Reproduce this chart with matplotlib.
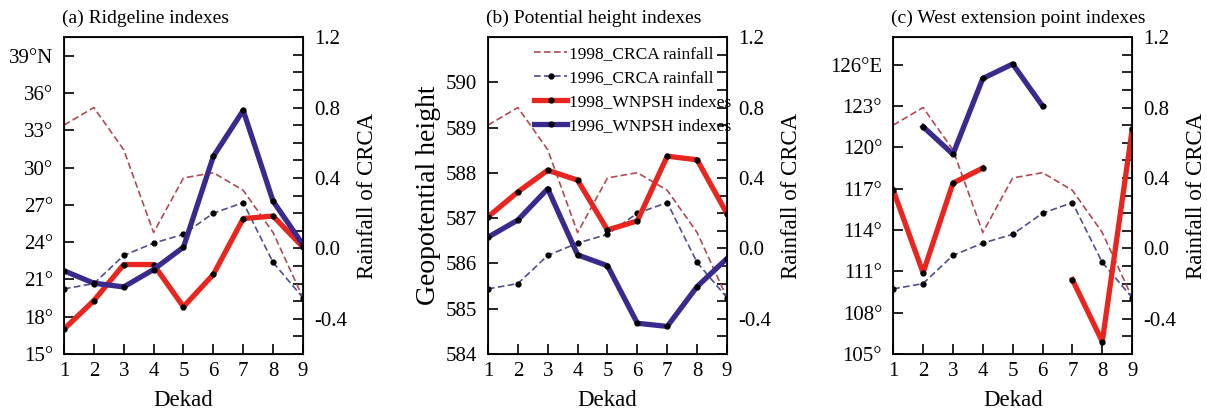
import matplotlib
matplotlib.use('Agg')
import matplotlib.pyplot as plt
import numpy as np
from matplotlib.ticker import MultipleLocator, FixedLocator, FixedFormatter

plt.rcParams['font.family'] = ['Liberation Serif', 'DejaVu Serif']
plt.rcParams['font.size'] = 15

# dekads
dekad = np.arange(1, 10)

# CRCA rainfall (right axis, same in every panel)
rain_1998 = [0.70, 0.80, 0.56, 0.09, 0.40, 0.43, 0.33, 0.09, -0.28]
rain_1996 = [-0.23, -0.20, -0.04, 0.03, 0.08, 0.20, 0.26, -0.08, -0.28]

# (a) ridgeline index, degrees N
ridge_1998 = [17.0, 19.3, 22.2, 22.2, 18.8, 21.4, 25.9, 26.1, 23.6]
ridge_1996 = [21.7, 20.7, 20.4, 21.8, 23.6, 30.9, 34.6, 27.3, 23.8]

# (b) potential height index, dagpm
height_1998 = [587.03, 587.58, 588.06, 587.84, 586.74, 586.94, 588.37, 588.29, 587.10]
height_1996 = [586.58, 586.96, 587.65, 586.19, 585.95, 584.68, 584.61, 585.49, 586.11]

# (c) west extension point index, degrees E (nan = no value)
west_1998 = [116.9, 110.9, 117.4, 118.5, np.nan, np.nan, 110.4, 105.9, 121.3]
west_1996 = [np.nan, 121.5, 119.5, 125.0, 126.05, 123.0, np.nan, np.nan, np.nan]

red = '#e8261f'
blue = '#3b2a8e'
rain_red = '#b04a55'
rain_blue = '#4f4f8c'

fig = plt.figure(figsize=(12.07, 4.17), dpi=100)

lefts = [0.053, 0.4043, 0.740]
width = 0.198
bottom = 0.151
height = 0.760

titles = ['(a) Ridgeline indexes', '(b) Potential height indexes',
          '(c) West extension point indexes']
ylims = [(15, 40.5), (584, 591), (105, 128)]
yticks = [np.arange(15, 40, 3), np.arange(584, 591, 1), np.arange(105, 127, 3)]
ylabels = [[u'%d\u00b0' % v for v in np.arange(15, 37, 3)] + [u'39\u00b0N'],
           ['%d' % v for v in np.arange(584, 591, 1)],
           [u'%d\u00b0' % v for v in np.arange(105, 124, 3)] + [u'126\u00b0E']]
series = [(ridge_1998, ridge_1996), (height_1998, height_1996), (west_1998, west_1996)]

for i in range(3):
    ax = fig.add_axes([lefts[i], bottom, width, height])
    ax2 = ax.twinx()
    ax.set_zorder(ax2.get_zorder() + 1)
    ax.patch.set_visible(False)

    # rainfall on right axis
    l1, = ax2.plot(dekad, rain_1998, color=rain_red, lw=1.2, ls=(0, (4, 2)),
                   label='1998_CRCA rainfall')
    l2, = ax2.plot(dekad, rain_1996, color=rain_blue, lw=1.2, ls=(0, (4, 2)),
                   marker='o', ms=3.5, mfc='k', mec='k',
                   label='1996_CRCA rainfall')

    # WNPSH indexes on left axis
    y98, y96 = series[i]
    l3, = ax.plot(dekad, y98, color=red, lw=3.8, marker='o', ms=3.5,
                  mfc='k', mec='k', label='1998_WNPSH indexes')
    l4, = ax.plot(dekad, y96, color=blue, lw=3.8, marker='o', ms=3.5,
                  mfc='k', mec='k', label='1996_WNPSH indexes')

    ax.set_xlim(1, 9)
    ax.set_xticks(dekad)
    ax.set_ylim(*ylims[i])
    ax.yaxis.set_major_locator(FixedLocator(yticks[i]))
    ax.yaxis.set_major_formatter(FixedFormatter(ylabels[i]))
    ax.tick_params(direction='in', length=7, width=1.2, top=False)
    ax.tick_params(axis='y', pad=8)
    ax.tick_params(axis='x', pad=6)
    ax.set_xlabel('Dekad', fontsize=16.5, labelpad=6)

    ax2.set_ylim(-0.6, 1.2)
    ax2.yaxis.set_major_locator(FixedLocator([-0.4, 0.0, 0.4, 0.8, 1.2]))
    ax2.yaxis.set_major_formatter(FixedFormatter(['-0.4', '0.0', '0.4', '0.8', '1.2']))
    ax2.yaxis.set_minor_locator(MultipleLocator(0.1))
    ax2.tick_params(which='both', direction='in', length=7, width=1.2, pad=8)
    ax2.set_ylabel('Rainfall of CRCA', fontsize=16.5, labelpad=7)

    for sp in ax.spines.values():
        sp.set_linewidth(1.3)

    ax.set_title(titles[i], loc='left', fontsize=14, pad=10, x=-0.01)

    if i == 1:
        ax.set_ylabel('Geopotential height', fontsize=20, labelpad=3)
        ax.legend([l1, l2, l3, l4], [h.get_label() for h in [l1, l2, l3, l4]],
                  loc='upper right', bbox_to_anchor=(1.055, 1.0), frameon=False,
                  fontsize=12.5, handlelength=1.9, handletextpad=0.1,
                  labelspacing=0.45, borderaxespad=0.1)

fig.savefig('out.png', dpi=100)
